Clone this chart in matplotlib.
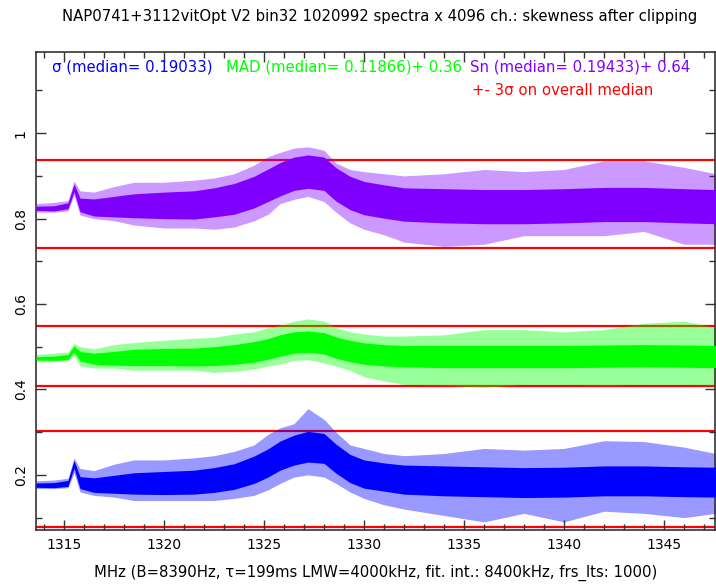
import matplotlib
matplotlib.use('Agg')
import matplotlib.pyplot as plt
import numpy as np
from matplotlib.ticker import MultipleLocator, FuncFormatter

# ---- data (MHz) ----
freq = [1313.6, 1314.5, 1315.2, 1315.5, 1315.8, 1316.5, 1317.5, 1318.5, 1320.0, 1321.5,
        1322.5, 1323.5, 1324.5, 1325.2, 1325.8, 1326.5, 1327.2, 1328.0, 1328.6, 1329.3,
        1330.0, 1331.0, 1332.0, 1334.0, 1336.0, 1338.0, 1340.0, 1342.0, 1344.0, 1346.0, 1347.6]

# sigma series (no offset)
sigma_center = [0.176, 0.176, 0.180, 0.225, 0.182, 0.176, 0.178, 0.180, 0.181, 0.183,
                0.188, 0.196, 0.212, 0.228, 0.245, 0.258, 0.266, 0.262, 0.238, 0.215,
                0.202, 0.195, 0.189, 0.186, 0.184, 0.182, 0.183, 0.186, 0.186, 0.184, 0.183]
sigma_core = [0.005, 0.006, 0.007, 0.009, 0.014, 0.017, 0.021, 0.025, 0.027, 0.028,
              0.029, 0.030, 0.032, 0.033, 0.034, 0.035, 0.036, 0.035, 0.034, 0.033,
              0.033, 0.033, 0.034, 0.035, 0.035, 0.035, 0.035, 0.035, 0.035, 0.035, 0.035]
sigma_hi = [0.186, 0.188, 0.192, 0.240, 0.215, 0.210, 0.225, 0.235, 0.235, 0.240,
            0.245, 0.255, 0.270, 0.295, 0.310, 0.320, 0.355, 0.330, 0.300, 0.270,
            0.262, 0.250, 0.245, 0.250, 0.262, 0.258, 0.262, 0.280, 0.278, 0.265, 0.250]
sigma_lo = [0.168, 0.168, 0.170, 0.205, 0.160, 0.152, 0.148, 0.140, 0.140, 0.140,
            0.140, 0.145, 0.152, 0.165, 0.180, 0.195, 0.200, 0.195, 0.180, 0.160,
            0.145, 0.130, 0.120, 0.105, 0.090, 0.110, 0.090, 0.115, 0.110, 0.100, 0.110]

# MAD series (plotted + 0.36)
mad_center = [0.113, 0.113, 0.116, 0.135, 0.118, 0.112, 0.113, 0.115, 0.116, 0.116,
              0.118, 0.122, 0.128, 0.135, 0.143, 0.150, 0.152, 0.148, 0.138, 0.130,
              0.124, 0.120, 0.118, 0.117, 0.117, 0.117, 0.117, 0.118, 0.119, 0.118, 0.117]
mad_core = [0.004, 0.005, 0.006, 0.007, 0.011, 0.013, 0.016, 0.019, 0.020, 0.021,
            0.022, 0.023, 0.024, 0.024, 0.025, 0.025, 0.025, 0.025, 0.025, 0.025,
            0.025, 0.025, 0.025, 0.026, 0.026, 0.026, 0.026, 0.026, 0.026, 0.026, 0.026]
mad_hi = [0.122, 0.125, 0.128, 0.148, 0.140, 0.135, 0.145, 0.150, 0.155, 0.160,
          0.162, 0.170, 0.175, 0.185, 0.190, 0.200, 0.205, 0.200, 0.185, 0.175,
          0.170, 0.165, 0.165, 0.168, 0.180, 0.180, 0.175, 0.180, 0.195, 0.200, 0.185]
mad_lo = [0.105, 0.105, 0.108, 0.120, 0.095, 0.090, 0.090, 0.085, 0.085, 0.085,
          0.080, 0.082, 0.088, 0.095, 0.100, 0.108, 0.110, 0.102, 0.095, 0.085,
          0.070, 0.060, 0.052, 0.050, 0.045, 0.052, 0.052, 0.050, 0.052, 0.052, 0.050]

# Sn series (plotted + 0.64)
sn_center = [0.184, 0.184, 0.190, 0.232, 0.192, 0.186, 0.188, 0.190, 0.191, 0.192,
             0.198, 0.206, 0.222, 0.238, 0.252, 0.265, 0.270, 0.265, 0.240, 0.220,
             0.208, 0.200, 0.193, 0.190, 0.188, 0.188, 0.190, 0.193, 0.193, 0.190, 0.188]
sn_core = [0.005, 0.006, 0.007, 0.009, 0.016, 0.020, 0.024, 0.028, 0.031, 0.033,
           0.034, 0.036, 0.037, 0.038, 0.039, 0.039, 0.039, 0.039, 0.039, 0.039,
           0.039, 0.039, 0.039, 0.040, 0.040, 0.040, 0.040, 0.040, 0.040, 0.040, 0.040]
sn_hi = [0.195, 0.198, 0.202, 0.248, 0.225, 0.222, 0.235, 0.245, 0.245, 0.250,
         0.255, 0.265, 0.285, 0.305, 0.315, 0.325, 0.328, 0.320, 0.290, 0.275,
         0.270, 0.265, 0.260, 0.265, 0.275, 0.270, 0.275, 0.295, 0.295, 0.280, 0.265]
sn_lo = [0.175, 0.175, 0.178, 0.215, 0.168, 0.160, 0.155, 0.145, 0.138, 0.138,
         0.135, 0.140, 0.155, 0.170, 0.195, 0.205, 0.212, 0.200, 0.175, 0.150,
         0.135, 0.122, 0.105, 0.095, 0.100, 0.120, 0.120, 0.120, 0.130, 0.100, 0.100]

offsets = [0.0, 0.36, 0.64]
medians = [0.19033, 0.11866, 0.19433]
three_sigma = [0.1113, 0.0695, 0.1030]

labels = ["σ (median= 0.19033)", "MAD (median= 0.11866)+ 0.36", "Sn (median= 0.19433)+ 0.64"]
title = "NAP0741+3112vitOpt V2 bin32 1020992 spectra x 4096 ch.: skewness after clipping"
xlabel = "MHz (B=8390Hz, τ=199ms LMW=4000kHz, fit. int.: 8400kHz, frs_lts: 1000)"

# ---- figure ----
W, H = 716, 584
fig = plt.figure(figsize=(W / 100, H / 100), dpi=100)
L, R, T, B = 36, 715, 52, 530
ax = fig.add_axes([L / W, 1 - B / H, (R - L) / W, (B - T) / H])
ax.set_xlim(1313.6, 1347.55)
ax.set_ylim(0.071, 1.190)

colors = ['#0000ff', '#00ff00', '#7f00ff']
series = [
    (sigma_center, sigma_core, sigma_lo, sigma_hi),
    (mad_center, mad_core, mad_lo, mad_hi),
    (sn_center, sn_core, sn_lo, sn_hi),
]
f = np.array(freq)
for (c, h, lo, hi), off, col in zip(series, offsets, colors):
    c = np.array(c); h = np.array(h)
    ax.fill_between(f, np.array(lo) + off, np.array(hi) + off, color=col, alpha=0.4, lw=0, zorder=2)
    ax.fill_between(f, c - h + off, c + h + off, color=col, lw=0, zorder=3)

for med, s3, off in zip(medians, three_sigma, offsets):
    for v in (med + off - s3, med + off + s3):
        ax.axhline(v, color='#ff0000', lw=1.6, zorder=1)

# ticks, PGPLOT style
ax.xaxis.set_major_locator(MultipleLocator(5))
ax.xaxis.set_minor_locator(MultipleLocator(1))
ax.yaxis.set_major_locator(MultipleLocator(0.2))
ax.yaxis.set_minor_locator(MultipleLocator(0.1))
ax.yaxis.set_major_formatter(FuncFormatter(lambda v, p: '%g' % round(v, 3)))
ax.tick_params(which='both', direction='in', top=True, right=True, color='#333333', width=1.0)
ax.tick_params(which='major', length=7, labelsize=10, pad=6)
ax.tick_params(which='minor', length=4)
for lab in ax.get_yticklabels():
    lab.set_rotation(90)
    lab.set_va('center')
for sp in ax.spines.values():
    sp.set_color('#333333')
    sp.set_linewidth(1.2)

fs = 10.7
ax.set_xlabel(xlabel, fontsize=fs, labelpad=9)

fig.text(380 / W, 1 - 17 / H, title, ha='center', va='center', fontsize=fs)
fig.text(52 / W, 1 - 67 / H, labels[0], color=colors[0], va='center', fontsize=fs)
fig.text(226 / W, 1 - 67 / H, labels[1], color=colors[1], va='center', fontsize=fs)
fig.text(470 / W, 1 - 67 / H, labels[2], color=colors[2], va='center', fontsize=fs)
fig.text(472 / W, 1 - 90 / H, "+- 3σ on overall median", color='#ff0000', va='center', fontsize=fs)

fig.savefig('out.png', dpi=100)
